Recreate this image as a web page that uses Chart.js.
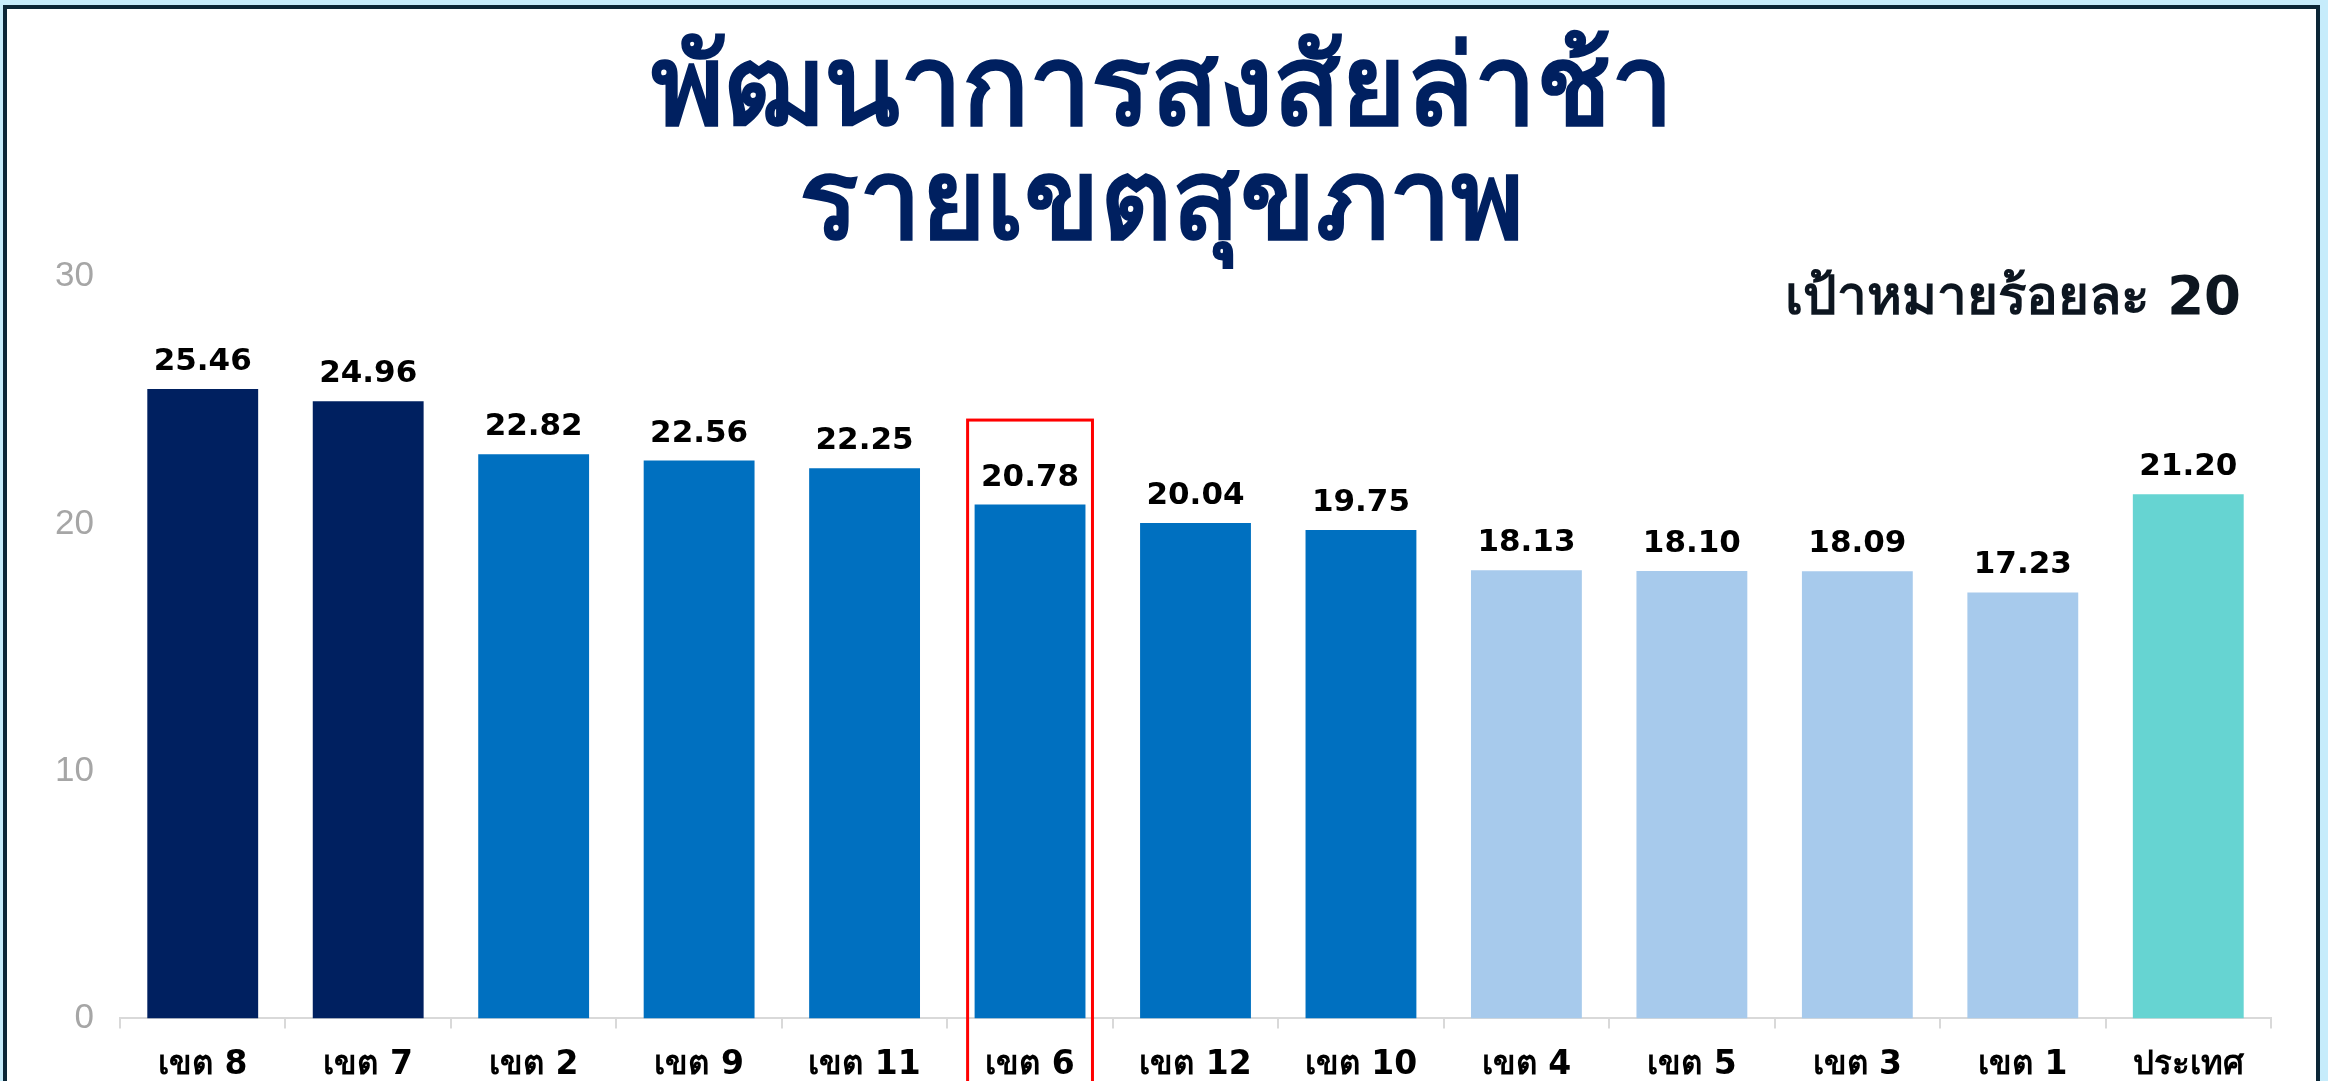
<!DOCTYPE html>
<html>
<head>
<meta charset="utf-8">
<script src="https://cdn.jsdelivr.net/npm/chart.js@4.4.1/dist/chart.umd.min.js"></script>
<style>
  html, body { margin: 0; padding: 0; background: #c6ecfb; overflow: hidden; }
  #panel {
    position: absolute; left: 3px; top: 5px; width: 2309px; height: 1120px;
    background: #fff; border: 4px solid #0b2636; border-bottom: none;
  }
  #panel canvas { display: block; }
</style>
</head>
<body>
<div id="panel"><canvas id="delayChart" width="2309" height="1093"></canvas></div>
<script>
'use strict';
// ─────────────────────────────────────────────
//  DATA
// ─────────────────────────────────────────────

const CATEGORIES = ['เขต 8', 'เขต 7', 'เขต 2', 'เขต 9', 'เขต 11', 'เขต 6', 'เขต 12',
                    'เขต 10', 'เขต 4', 'เขต 5', 'เขต 3', 'เขต 1', 'ประเทศ'];
const VALUES = [25.46, 24.96, 22.82, 22.56, 22.25, 20.78, 20.04, 19.75, 18.13, 18.10, 18.09, 17.23, 21.20];
const BAR_COLORS = ['#002060', '#002060', '#0070c0', '#0070c0', '#0070c0', '#0070c0', '#0070c0',
                    '#0070c0', '#a7caec', '#a7caec', '#a7caec', '#a7caec', '#66d4d2'];
const Y_TICKS = { min: 0, max: 30, step: 10 };

const TITLE_LINES = ['พัฒนาการสงสัยล่าช้า', 'รายเขตสุขภาพ'];
const TARGET_TEXT = 'เป้าหมายร้อยละ 20';
const HIGHLIGHT_INDEX = 5;     // เขต 6
const HIGHLIGHT_TOP = 24.2;    // top of red frame, in axis units

const THAI_FONT = 'Tahoma, "DejaVu Sans", "Noto Sans", sans-serif';

// value labels above bars
const valueLabels = {
  id: 'valueLabels',
  afterDatasetsDraw(chart) {
    const { ctx } = chart;
    const meta = chart.getDatasetMeta(0);
    ctx.save();
    ctx.font = 'bold 31px "DejaVu Sans", Verdana, sans-serif';
    ctx.fillStyle = '#000';
    ctx.textAlign = 'center';
    ctx.textBaseline = 'alphabetic';
    meta.data.forEach((bar, i) => {
      ctx.fillText(VALUES[i].toFixed(2), bar.x, bar.y - 19);
    });
    ctx.restore();
  },
};

// red frame round one bar, target text at right
const extras = {
  id: 'extras',
  afterDraw(chart) {
    const { ctx, chartArea } = chart;
    const bar = chart.getDatasetMeta(0).data[HIGHLIGHT_INDEX];
    const y = chart.scales.y;
    const half = bar.width / 2 + 7;
    ctx.save();
    ctx.strokeStyle = '#ff0000';
    ctx.lineWidth = 3;
    ctx.strokeRect(bar.x - half, y.getPixelForValue(HIGHLIGHT_TOP), half * 2, 2000);

    ctx.font = 'bold 53px ' + THAI_FONT;
    ctx.fillStyle = '#0d1620';
    ctx.textAlign = 'right';
    ctx.fillText(TARGET_TEXT, chartArea.right - 30, 305);
    ctx.restore();
  },
};

new Chart(document.getElementById('delayChart'), {
  type: 'bar',
  data: {
    labels: CATEGORIES,
    datasets: [{
      data: VALUES,
      backgroundColor: BAR_COLORS,
      borderWidth: 0,
      categoryPercentage: 1,
      barPercentage: 0.67,
    }],
  },
  options: {
    responsive: false,
    animation: false,
    layout: { padding: { left: 45, right: 45, top: 0, bottom: 0 } },
    plugins: {
      legend: { display: false },
      tooltip: { enabled: false },
      title: {
        display: true,
        text: TITLE_LINES,
        color: '#002060',
        font: { family: THAI_FONT, size: 111, weight: 'bold', lineHeight: 1.03 },
        padding: { top: 29, bottom: 10 },
      },
    },
    scales: {
      x: {
        grid: {
          display: true,
          drawOnChartArea: false,
          drawTicks: true,
          tickLength: 10,
          color: '#d9d9d9',
          lineWidth: 2,
          offset: true,
        },
        border: { display: true, color: '#d9d9d9', width: 2 },
        ticks: {
          color: '#000',
          font: { family: THAI_FONT, size: 33, weight: 'bold' },
          padding: 17,
          maxRotation: 0,
          autoSkip: false,
        },
      },
      y: {
        min: Y_TICKS.min,
        max: Y_TICKS.max,
        grid: { display: false },
        border: { display: false },
        afterFit: s => { s.width = 68; },
        ticks: {
          stepSize: Y_TICKS.step,
          color: '#a6a6a6',
          font: { family: '"Liberation Sans", Calibri, sans-serif', size: 35 },
          padding: 18,
        },
      },
    },
  },
  plugins: [valueLabels, extras],
});
</script>
</body>
</html>
